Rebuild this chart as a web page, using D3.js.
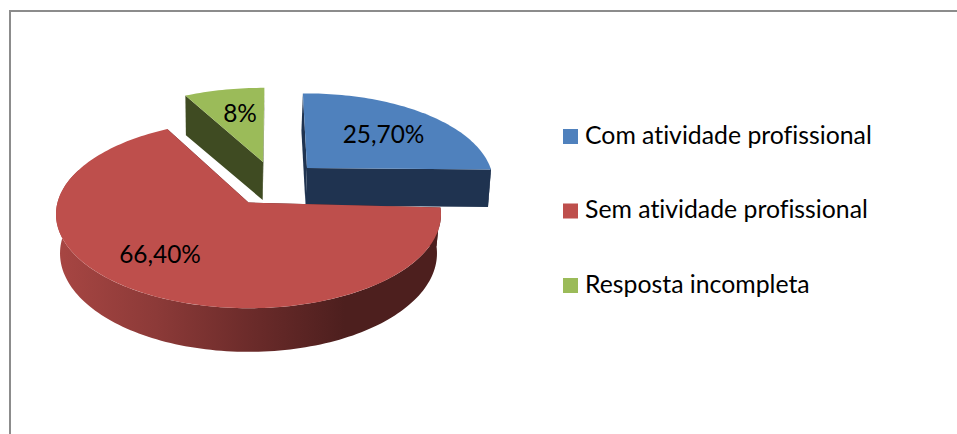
<!DOCTYPE html>
<html><head><meta charset="utf-8">
<script src="https://cdnjs.cloudflare.com/ajax/libs/d3/7.8.5/d3.min.js"></script>
<style>html,body{margin:0;padding:0;background:#fff}svg{display:block}text{font-family:Lato,"Open Sans",sans-serif;fill:#000;font-variant-ligatures:none;font-feature-settings:"liga" 0}</style>
</head><body><svg id="c" width="957" height="434"></svg>
<script>
const categories = ["Com atividade profissional","Sem atividade profissional","Resposta incompleta"];
const values = [25.7,66.4,8];
const valueLabels = ["25,70%","66,40%","8%"];
const topColors = ["#4f81bd","#be4f4c","#9bbb59"];
const sideColors = ["#1f3350","#4d1f1e","#3f4b22"];

const svg = d3.select("#c");
const pie = d3.pie().sort(null).startAngle(0).endAngle(2*Math.PI);
const arcs = pie(values);

// projection of each exploded slice's tilted disc: top face / bottom face, small per-slice rotation
const rad = Math.PI/180;
const geom = [
 {rot:-1.5*rad,t:{x:307,y:168,B:183.5,A:87,k:.167}, b:{x:305.5,y:205.5,B:182,A:87,k:.167}, lbl:[383.5,143]},
 {rot:0.6*rad,t:{x:248.5,y:202.5,B:191,A:92.5,k:.125}, b:{x:248.5,y:241,B:187,A:97,k:.125}, lbl:[160,263]},
 {rot:.5*rad,t:{x:263,y:162,B:187,A:86,k:.16}, b:{x:262.7,y:200,B:185,A:84,k:.16}, lbl:[240,122]}
];
const proj=(p,a,r=1)=>{const u=r*Math.sin(a),v=r*Math.cos(a),w=1+p.k*v;return [p.x+p.B*u/w,p.y-p.A*v/w];};
const sweep=(p,a0,a1)=>{const n=Math.ceil(Math.abs(a1-a0)*40);return d3.range(n+1).map(i=>proj(p,a0+(a1-a0)*i/n));};
const line=d3.line().curve(d3.curveLinear);

// frame
svg.append("path").attr("d",line([[10,434],[10,11],[957,11]])).attr("fill","none").attr("stroke","#8c8c8c").attr("stroke-width",2);

// gradient of the curved side
const defs=svg.append("defs");
const grad=defs.append("linearGradient").attr("id","sideGrad").attr("gradientUnits","userSpaceOnUse").attr("x1",55).attr("x2",345).attr("y1",0).attr("y2",0);
[[0,"#a84643"],[.35,"#8c3a38"],[.68,"#6b2b2a"],[1,"#4d1f1e"]].forEach(s=>grad.append("stop").attr("offset",s[0]).attr("stop-color",s[1]));

const draw=i=>{
  const d=arcs[i],g=geom[i];
  const a0=d.startAngle+g.rot,a1=d.endAngle+g.rot;
  const g0=svg.append("g");
  // cut faces
  [a0,a1].forEach(a=>{
    g0.append("path").attr("d",line([proj(g.t,a,0),proj(g.t,a),proj(g.b,a),proj(g.b,a,0)])+"Z").attr("fill",sideColors[i]);
  });
  // curved outer wall, front part
  const lo=Math.max(a0,Math.PI/2),hi=Math.min(a1,Math.PI*1.62);
  if(hi>lo){
    g0.append("path").attr("d",line(sweep(g.t,lo,hi).concat(sweep(g.b,hi,lo)))+"Z").attr("fill",i===1?"url(#sideGrad)":sideColors[i]);
  }
  // top face
  g0.append("path").attr("d",line([proj(g.t,a0,0)].concat(sweep(g.t,a0,a1)))+"Z").attr("fill",topColors[i]);
};
[2,0,1].forEach(draw);

// labels
svg.selectAll("text.v").data(valueLabels).join("text").attr("class","v")
  .attr("x",(d,i)=>geom[i].lbl[0]).attr("y",(d,i)=>geom[i].lbl[1])
  .attr("text-anchor","middle").attr("font-size",24.4).text(d=>d);

// legend
const ly=d3.scalePoint().domain(categories).range([136.5,285.5]);
const lg=svg.selectAll("g.l").data(categories).join("g").attr("class","l").attr("transform",d=>`translate(0,${ly(d)})`);
lg.append("rect").attr("x",563).attr("y",-7.5).attr("width",15).attr("height",15).attr("fill",(d,i)=>topColors[i]);
lg.append("text").attr("x",585).attr("y",7).attr("font-size",24.8).text(d=>d);
</script></body></html>
